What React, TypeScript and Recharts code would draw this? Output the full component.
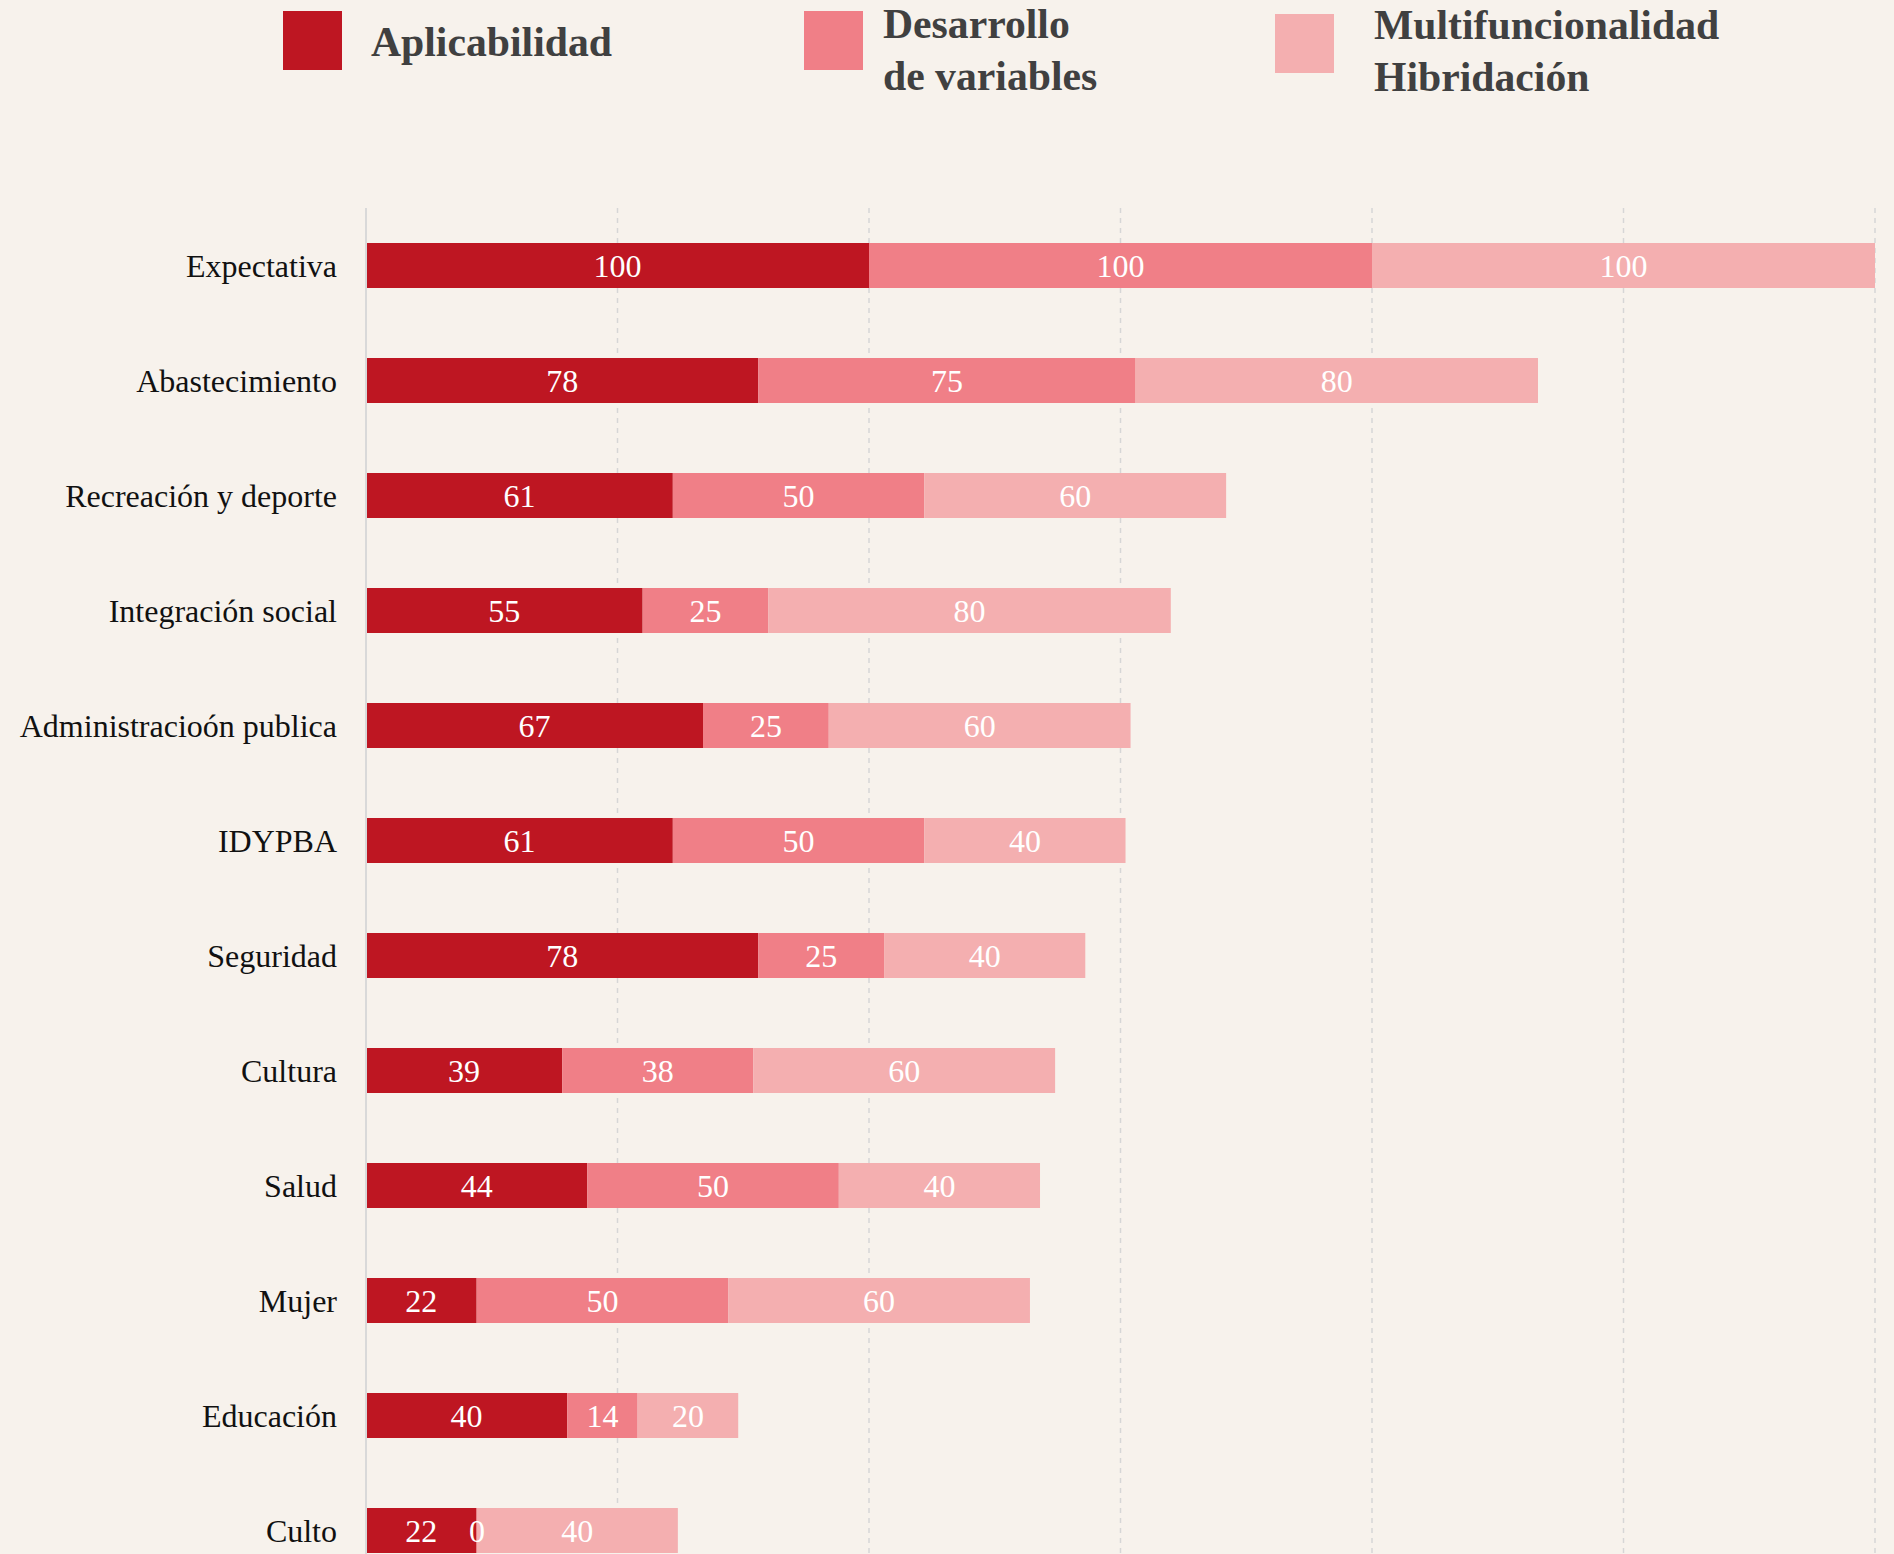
import { BarChart, Bar, XAxis, YAxis, CartesianGrid, LabelList } from 'recharts';

const categories = [
  'Expectativa',
  'Abastecimiento',
  'Recreación y deporte',
  'Integración social',
  'Administracioón publica',
  'IDYPBA',
  'Seguridad',
  'Cultura',
  'Salud',
  'Mujer',
  'Educación',
  'Culto',
];

const aplicabilidad = [100, 78, 61, 55, 67, 61, 78, 39, 44, 22, 40, 22];
const desarrollo = [100, 75, 50, 25, 25, 50, 25, 38, 50, 50, 14, 0];
const multifuncionalidad = [100, 80, 60, 80, 60, 40, 40, 60, 40, 60, 20, 40];

const xTicks = [0, 50, 100, 150, 200, 250, 300];

const series = [
  { key: 'aplicabilidad', lines: ['Aplicabilidad'], color: '#be1622' },
  { key: 'desarrollo', lines: ['Desarrollo', 'de variables'], color: '#f07f87' },
  { key: 'multifuncionalidad', lines: ['Multifuncionalidad', 'Hibridación'], color: '#f4afb0' },
];

const data = categories.map((name, i) => ({
  name,
  aplicabilidad: aplicabilidad[i],
  desarrollo: desarrollo[i],
  multifuncionalidad: multifuncionalidad[i],
}));

const FONT = '"Liberation Serif", "Times New Roman", serif';
const BG = '#f7f2ec';

// legend placement, one entry per series
const legendPos = [
  { left: 283, sqTop: 11, textLeft: 371, textTop: 17 },
  { left: 804, sqTop: 11, textLeft: 883, textTop: -1 },
  { left: 1275, sqTop: 14, textLeft: 1374, textTop: 0 },
];

// x ticks only feed the grid, no labels drawn
const NoTick = () => <g />;

const App = () => (
  <div style={{ position: 'fixed', left: 0, top: 0, width: 1894, height: 1554, overflow: 'hidden', background: BG }}>
    {series.map((s, i) => (
      <div key={s.key}>
        <div style={{ position: 'absolute', left: legendPos[i].left, top: legendPos[i].sqTop, width: 59, height: 59, background: s.color }} />
        <div
          style={{
            position: 'absolute',
            left: legendPos[i].textLeft,
            top: legendPos[i].textTop,
            fontFamily: FONT,
            fontWeight: 'bold',
            fontSize: 41.7,
            lineHeight: '51.5px',
            color: '#404040',
            whiteSpace: 'nowrap',
          }}
        >
          {s.lines.map((l) => <div key={l}>{l}</div>)}
        </div>
      </div>
    ))}
    <div style={{ position: 'absolute', left: 0, top: 0 }}>
      <BarChart
        width={1894}
        height={1620}
        data={data}
        layout="vertical"
        margin={{ top: 208, right: 19, left: 0, bottom: 2 }}
        barSize={45}
      >
        <CartesianGrid horizontal={false} stroke="#d6d6d6" strokeDasharray="5 5" strokeWidth={1.5} />
        <XAxis
          type="number"
          domain={[0, 300]}
          ticks={xTicks}
          interval={0}
          axisLine={false}
          tickLine={false}
          tick={NoTick}
          height={30}
        />
        <YAxis
          type="category"
          dataKey="name"
          width={366}
          axisLine={{ stroke: '#d9d9d9', strokeWidth: 2 }}
          tickLine={false}
          tickSize={0}
          tickMargin={29}
          tick={{ fill: '#111', fontSize: 32, fontFamily: FONT }}
          interval={0}
        />
        {series.map((s) => (
          <Bar key={s.key} dataKey={s.key} stackId="a" fill={s.color} minPointSize={0.5} isAnimationActive={false}>
            <LabelList dataKey={s.key} position="center" fill="#fff" fontSize={32} fontFamily={FONT} />
          </Bar>
        ))}
      </BarChart>
    </div>
  </div>
);

export default App;
